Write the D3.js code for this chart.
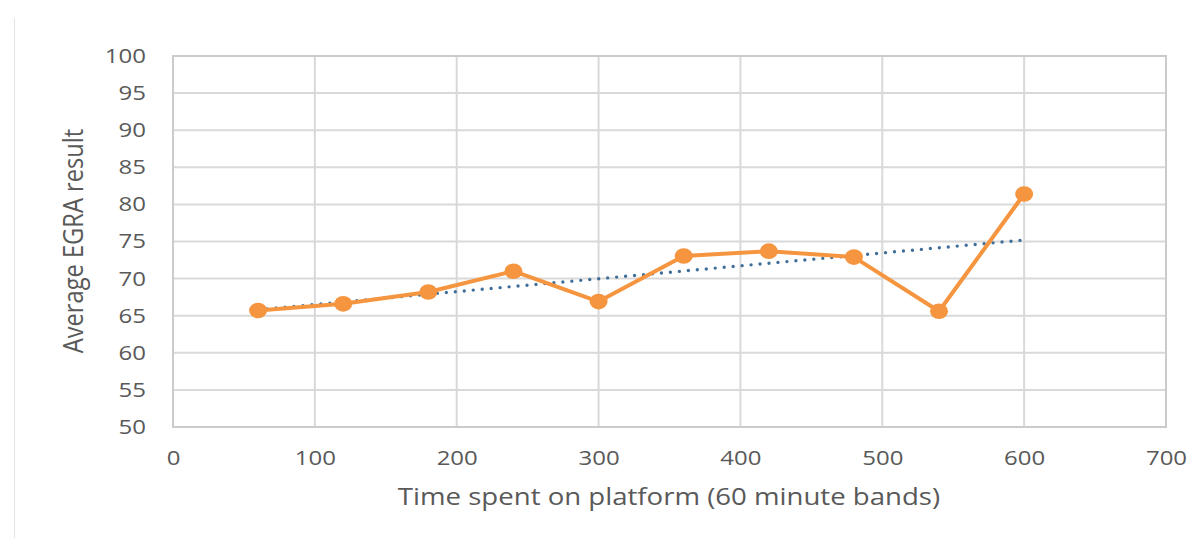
<!DOCTYPE html>
<html>
<head>
<meta charset="utf-8">
<script src="https://cdn.jsdelivr.net/npm/d3@7"></script>
<style>
  html, body { margin: 0; padding: 0; background: #ffffff; }
  svg text { font-family: "Open Sans", "DejaVu Sans", sans-serif; fill: #595959; }
</style>
</head>
<body>
<svg id="chart" width="1190" height="538"></svg>
<script>
// Time on platform (minutes, 60-minute bands) and the average EGRA score per band
const minutes = [60, 120, 180, 240, 300, 360, 420, 480, 540, 600];
const egraScore = [65.7, 66.6, 68.2, 71.0, 66.9, 73.05, 73.7, 72.9, 65.6, 81.4];
const xTicks = [0, 100, 200, 300, 400, 500, 600, 700];
const yTicks = [50, 55, 60, 65, 70, 75, 80, 85, 90, 95, 100];
const xTitle = "Time spent on platform (60 minute bands)";
const yTitle = "Average EGRA result";

const svg = d3.select("#chart");
const plot = { left: 173, right: 1166, top: 56, bottom: 427 };
const STRETCH = 1.2; // wide glyph rendering of the labels

const x = d3.scaleLinear().domain([0, 700]).range([plot.left, plot.right]);
const y = d3.scaleLinear().domain([50, 100]).range([plot.bottom, plot.top]);

// widen horizontal text about its own anchor point
function stretch(sel, k) {
  sel.each(function () {
    const t = d3.select(this);
    const xv = +(t.attr("x") || 0);
    t.attr("x", xv / k).attr("transform", `scale(${k},1)`);
  });
}

// thin chart-area border on the left
svg.append("line")
  .attr("x1", 14.5).attr("x2", 14.5).attr("y1", 18).attr("y2", 538)
  .attr("stroke", "#e3e3e3").attr("stroke-width", 1);

// gridlines
const grid = svg.append("g");
grid.selectAll("line.h").data(yTicks).join("line")
  .attr("x1", plot.left).attr("x2", plot.right)
  .attr("y1", d => y(d)).attr("y2", d => y(d))
  .attr("stroke", "#d9d9d9").attr("stroke-width", 2);
grid.selectAll("line.v").data(xTicks).join("line")
  .attr("y1", plot.top).attr("y2", plot.bottom)
  .attr("x1", d => x(d)).attr("x2", d => x(d))
  .attr("stroke", "#d9d9d9").attr("stroke-width", 2);

// plot-area outline
svg.append("rect")
  .attr("x", plot.left).attr("y", plot.top)
  .attr("width", plot.right - plot.left).attr("height", plot.bottom - plot.top)
  .attr("fill", "none").attr("stroke", "#cbcbcb").attr("stroke-width", 2);

// axes (labels only, Excel style)
const yAxis = d3.axisLeft(y).tickValues(yTicks).tickSize(0).tickPadding(27);
svg.append("g").attr("transform", `translate(${plot.left},0)`).call(yAxis)
  .call(g => g.select(".domain").remove())
  .selectAll("text").attr("font-size", 20).style("fill", "#595959")
  .call(stretch, STRETCH);

const xAxis = d3.axisBottom(x).tickValues(xTicks).tickSize(0).tickPadding(24);
svg.append("g").attr("transform", `translate(0,${plot.bottom})`).call(xAxis)
  .call(g => g.select(".domain").remove())
  .selectAll("text").attr("font-size", 20).style("fill", "#595959")
  .call(stretch, STRETCH);

svg.selectAll(".tick text").style("font-family", "'Open Sans', sans-serif");

// axis titles
svg.append("text")
  .attr("x", 669).attr("y", 505)
  .attr("text-anchor", "middle").attr("font-size", 23)
  .text(xTitle)
  .call(stretch, STRETCH);

svg.append("text")
  .attr("transform", "translate(83,241) rotate(-90) scale(1.03,1.15)")
  .attr("text-anchor", "middle").attr("font-size", 23)
  .text(yTitle);

// linear trendline (least squares over the series)
const mx = d3.mean(minutes), my = d3.mean(egraScore);
const sxy = d3.sum(minutes, (v, i) => (v - mx) * (egraScore[i] - my));
const sxx = d3.sum(minutes, v => (v - mx) * (v - mx));
const slope = sxy / sxx, intercept = my - slope * mx;
const xMin = d3.min(minutes), xMax = d3.max(minutes);
svg.append("line")
  .attr("x1", x(xMin)).attr("y1", y(intercept + slope * xMin))
  .attr("x2", x(xMax)).attr("y2", y(intercept + slope * xMax))
  .attr("stroke", "#3f6f99").attr("stroke-width", 3.4)
  .attr("stroke-linecap", "round").attr("stroke-dasharray", "0,9");

// data series
const pts = minutes.map((m, i) => [m, egraScore[i]]);
svg.append("path")
  .datum(pts)
  .attr("d", d3.line().x(d => x(d[0])).y(d => y(d[1])))
  .attr("fill", "none").attr("stroke", "#f6953f").attr("stroke-width", 4)
  .attr("stroke-linejoin", "round");

svg.selectAll("ellipse.pt").data(pts).join("ellipse")
  .attr("cx", d => x(d[0])).attr("cy", d => y(d[1]))
  .attr("rx", 9).attr("ry", 7.8)
  .attr("fill", "#f6953f");
</script>
</body>
</html>
